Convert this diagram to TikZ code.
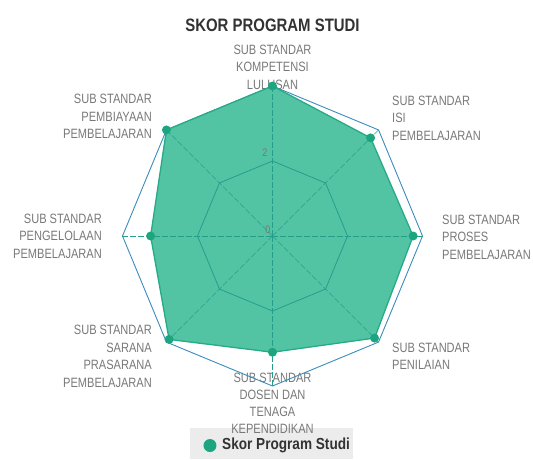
\documentclass[tikz,border=0pt]{standalone}
\usepackage{fontspec}
\setmainfont{Liberation Sans}
\newfontfamily\labelfont[FakeStretch=0.82]{Liberation Sans}
\newfontfamily\titlefont[FakeStretch=0.83]{Liberation Sans}
\newfontfamily\legendfont[FakeStretch=0.85]{Liberation Sans}

\definecolor{skorfill}{RGB}{82,196,164}
\definecolor{skoredge}{RGB}{38,170,135}
\definecolor{skordot}{RGB}{28,166,128}
\definecolor{gridteal}{RGB}{36,158,138}
\definecolor{ringblue}{RGB}{58,140,190}
\definecolor{labelgray}{RGB}{120,120,120}
\definecolor{titlegray}{RGB}{50,50,50}
\definecolor{legendbg}{RGB}{236,236,236}

\begin{document}
\begin{tikzpicture}[x=1pt,y=1pt,
    axislabel/.style={font=\labelfont\fontsize{13.5}{17.5}\selectfont,text=labelgray,inner sep=0pt},
    ticklabel/.style={font=\labelfont\fontsize{11}{13}\selectfont,text=labelgray,inner sep=0pt}]
                \useasboundingbox (-272.5,-223) rectangle (260.5,236);
                \coordinate (c) at (0,0);

                \node[font=\titlefont\bfseries\fontsize{18}{20}\selectfont,text=titlegray] (title) at (0,211) {SKOR PROGRAM STUDI};

                % legend box
                \fill[legendbg] (-82.5,-192) rectangle (80.5,-223);
                \node[circle,fill=skordot,inner sep=0pt,minimum size=13pt] (legdot) at (-62.5,-209.5) {};
                \node[right,inner sep=0pt,font=\legendfont\bfseries\fontsize{16}{18}\selectfont,text=titlegray] (legtext) at (-50.5,-209.5) {Skor Program Studi};

                % axis labels
                \node[axislabel,align=center] (l1) at (0,169) {SUB STANDAR\\KOMPETENSI\\LULUSAN};
                \node[axislabel,align=left,anchor=west] (l2) at (119.5,118) {SUB STANDAR\\ISI\\PEMBELAJARAN};
                \node[axislabel,align=left,anchor=west] (l3) at (169.5,-1) {SUB STANDAR\\PROSES\\PEMBELAJARAN};
                \node[axislabel,align=left,anchor=west] (l4) at (119.5,-120.5) {SUB STANDAR\\PENILAIAN};
                \node[axislabel,align=center,font=\labelfont\fontsize{13.5}{17}\selectfont] (l5) at (0,-167.5) {SUB STANDAR\\DOSEN DAN\\TENAGA\\KEPENDIDIKAN};
                \node[axislabel,align=right,anchor=east] (l6) at (-120.5,-120.5) {SUB STANDAR\\SARANA\\PRASARANA\\PEMBELAJARAN};
                \node[axislabel,align=right,anchor=east] (l7) at (-170.5,0) {SUB STANDAR\\PENGELOLAAN\\PEMBELAJARAN};
                \node[axislabel,align=right,anchor=east] (l8) at (-120.5,119.5) {SUB STANDAR\\PEMBIAYAAN\\PEMBELAJARAN};

                \foreach \i in {1,...,8}
                {
                \coordinate (o\i) at ({90-45*(\i-1)}:150);
                \coordinate (g\i) at ({90-45*(\i-1)}:75);
                }
                \foreach \i/\v in {1/4,2/3.7,3/3.75,4/3.85,5/3.1,6/3.9,7/3.25,8/4}
                \coordinate (p\i) at ({90-45*(\i-1)}:{37.5*\v});

                % outer ring
                \draw[ringblue,line width=0.9pt,line join=round] (o1)--(o2)--(o3)--(o4)--(o5)--(o6)--(o7)--(o8)--cycle;

                % score
                \filldraw[fill=skorfill,draw=skoredge,line width=1.3pt,line join=round] (p1)--(p2)--(p3)--(p4)--(p5)--(p6)--(p7)--(p8)--cycle;

                % grid
                \draw[gridteal,line width=0.8pt] (g1)--(g2)--(g3)--(g4)--(g5)--(g6)--(g7)--(g8)--cycle;
                \foreach \i in {1,...,8}
                \draw[gridteal,dashed,dash pattern=on 6pt off 2pt,line width=0.6pt] (c) -- (o\i);

                \node[ticklabel] (t0) at (-4.5,6) {0};
                \node[ticklabel] (t2) at (-7.5,83) {2};

                \foreach \i in {1,...,8}
                \node[circle,fill=skordot,inner sep=0pt,minimum size=9pt] at (p\i) {};

            \end{tikzpicture}
\end{document}
